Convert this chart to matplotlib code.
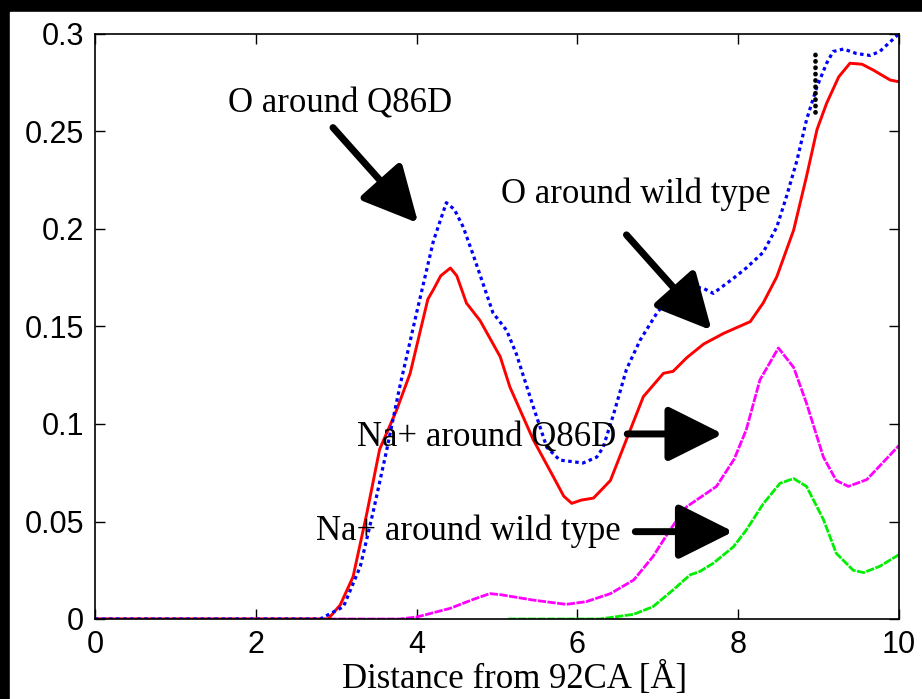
import numpy as np
import matplotlib
matplotlib.use("Agg")
import matplotlib.pyplot as plt
from matplotlib.patches import Rectangle, ArrowStyle

# O around wild type (red, solid)
red_x = [0, 2.9, 3.05, 3.21, 3.38, 3.54, 3.75, 3.92, 4.14, 4.21, 4.3, 4.42, 4.5, 4.62, 4.79,
         5.04, 5.16, 5.45, 5.7, 5.83, 5.93, 6.05, 6.2, 6.41, 6.61, 6.82, 7.07, 7.19, 7.36,
         7.57, 7.82, 8.15, 8.31, 8.48, 8.69, 8.85, 8.98, 9.1, 9.25, 9.39, 9.54, 9.68, 9.89, 10]
red_y = [0, 0, 0.0072, 0.0217, 0.054, 0.087, 0.107, 0.126, 0.164, 0.169, 0.176, 0.180, 0.176,
         0.162, 0.153, 0.1345, 0.119, 0.092, 0.073, 0.063, 0.0593, 0.061, 0.062, 0.071, 0.092,
         0.114, 0.126, 0.127, 0.134, 0.141, 0.1465, 0.1525, 0.162, 0.1755, 0.1995, 0.227, 0.251,
         0.2645, 0.278, 0.285, 0.2845, 0.2815, 0.2764, 0.2755]

# O around Q86D (blue, dotted)
blue_x = [0, 2.8, 3.09, 3.3, 3.46, 3.63, 3.79, 4.0, 4.21, 4.37, 4.47, 4.58, 4.71, 4.95, 5.12,
          5.24, 5.45, 5.62, 5.78, 6.07, 6.24, 6.32, 6.45, 6.61, 6.78, 6.99, 7.15, 7.36, 7.57,
          7.69, 7.94, 8.1, 8.31, 8.48, 8.6, 8.73, 8.85, 8.98, 9.1, 9.18, 9.31, 9.47, 9.64, 9.76,
          9.97, 10]
blue_y = [0, 0, 0.0063, 0.027, 0.055, 0.087, 0.119, 0.157, 0.194, 0.2135, 0.21, 0.201, 0.186,
          0.157, 0.148, 0.136, 0.109, 0.088, 0.0815, 0.080, 0.083, 0.088, 0.105, 0.128, 0.143,
          0.157, 0.165, 0.171, 0.1695, 0.167, 0.1747, 0.18, 0.188, 0.201, 0.2166, 0.235, 0.256,
          0.273, 0.285, 0.291, 0.2923, 0.290, 0.289, 0.291, 0.299, 0.300]

# Na+ around Q86D (magenta)
mag_x = [0, 3.79, 4.0, 4.42, 4.7, 4.91, 5.04, 5.45, 5.86, 6.11, 6.41, 6.7, 6.94, 7.15, 7.36,
         7.73, 7.95, 8.1, 8.27, 8.5, 8.69, 8.85, 9.06, 9.22, 9.37, 9.6, 10]
mag_y = [0, 0, 0.001, 0.0055, 0.010, 0.013, 0.0125, 0.0097, 0.0075, 0.0089, 0.013, 0.020,
         0.032, 0.0456, 0.0576, 0.068, 0.082, 0.097, 0.1226, 0.139, 0.129, 0.1106, 0.083,
         0.071, 0.068, 0.0715, 0.089]

# Na+ around wild type (green)
green_x = [5.14, 6.28, 6.7, 6.94, 7.19, 7.40, 7.52, 7.69, 7.94, 8.1, 8.31, 8.52, 8.69, 8.85,
           9.06, 9.22, 9.43, 9.56, 9.76, 10]
green_y = [0, 0, 0.0024, 0.0063, 0.0149, 0.0226, 0.0243, 0.0286, 0.037, 0.0456, 0.059, 0.0696,
           0.072, 0.068, 0.051, 0.0337, 0.025, 0.0238, 0.027, 0.033]

# black dotted marker line
mark_x = [8.96, 8.96]
mark_y = [0.260, 0.292]

labels = ["O around Q86D", "O around wild type", "Na+ around Q86D", "Na+ around wild type"]
label_xy = [(3.05, 0.2595), (6.73, 0.2133), (4.87, 0.0884), (4.65, 0.0405)]
arrow_from = [(2.96, 0.252), (6.61, 0.197), (6.62, 0.0949), (6.72, 0.0448)]
arrow_to = [(4.02, 0.203), (7.67, 0.148), (7.81, 0.0949), (7.94, 0.0448)]

W, H = 922, 699
fig = plt.figure(figsize=(W / 100, H / 100), dpi=100)
fig.patch.set_facecolor("black")
fig.add_artist(Rectangle((10 / W, 0), 1, 1 - 12 / H, transform=fig.transFigure,
                         color="white", zorder=-10))

ax = fig.add_axes([95 / W, 1 - 619 / H, (899 - 95) / W, (619 - 34) / H])
ax.set_facecolor("white")

ax.plot(mag_x, mag_y, color="#ff00ff", lw=2.0, ls=(0, (3, 0.5)))
ax.plot(green_x, green_y, color="#00ee00", lw=2.0, ls=(0, (3, 0.5)))
ax.plot(red_x, red_y, color="red", lw=2.1)
ax.plot(blue_x, blue_y, color="blue", lw=2.3, ls=(0, (1.1, 1.1)))
ax.plot(mark_x, mark_y, color="black", lw=3.4, ls=(0, (0.05, 1.3)), dash_capstyle="round")

style = ArrowStyle("-|>", head_length=1.0, head_width=0.5)
for txt, xy, a0, a1 in zip(labels, label_xy, arrow_from, arrow_to):
    ax.text(xy[0], xy[1], txt, ha="center", va="baseline", fontsize=25,
            family="Liberation Serif")
    ax.annotate("", xy=a1, xytext=a0,
                arrowprops=dict(arrowstyle=style, lw=5, color="black",
                                mutation_scale=34, shrinkA=0, shrinkB=0))

ax.set_xlim(0, 10)
ax.set_ylim(0, 0.3)
ax.set_xticks([0, 2, 4, 6, 8, 10])
ax.set_yticks([0, 0.05, 0.1, 0.15, 0.2, 0.25, 0.3])
ax.set_xticklabels(["0", "2", "4", "6", "8", "10"])
ax.set_yticklabels(["0", "0.05", "0.1", "0.15", "0.2", "0.25", "0.3"])
ax.tick_params(direction="in", length=7, width=1, top=True, right=True,
               labelsize=22, pad=8)
for lab in ax.get_xticklabels() + ax.get_yticklabels():
    lab.set_family("Liberation Sans")
for sp in ax.spines.values():
    sp.set_linewidth(1.2)

fig.text(515 / W, 1 - 688 / H, "Distance from 92CA [Å]", ha="center", va="baseline",
         fontsize=25, family="Liberation Serif")

fig.savefig("out.png", dpi=100, facecolor=fig.get_facecolor())
